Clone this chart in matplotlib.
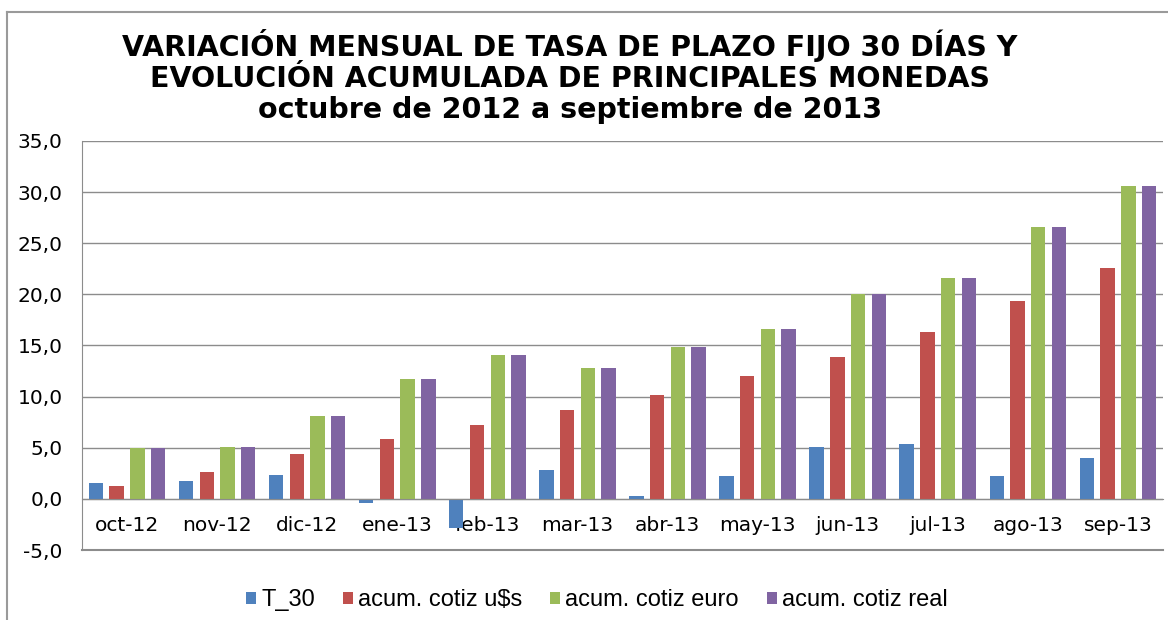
import matplotlib
matplotlib.use("Agg")
import matplotlib.pyplot as plt
from matplotlib.lines import Line2D
import numpy as np

# data
months = ["oct-12", "nov-12", "dic-12", "ene-13", "feb-13", "mar-13",
          "abr-13", "may-13", "jun-13", "jul-13", "ago-13", "sep-13"]
t_30 = [1.56, 1.79, 2.37, -0.4, -2.8, 2.82, 0.26, 2.24, 5.03, 5.39, 2.24, 4.0]
cotiz_usd = [1.3, 2.6, 4.38, 5.88, 7.18, 8.67, 10.2, 11.98, 13.83, 16.3, 19.35, 22.6]
cotiz_euro = [4.93, 5.03, 8.1, 11.72, 14.06, 12.8, 14.87, 16.62, 20.0, 21.6, 26.56, 30.6]
cotiz_real = [4.93, 5.03, 8.1, 11.72, 14.06, 12.8, 14.87, 16.62, 20.0, 21.6, 26.56, 30.6]

series = [t_30, cotiz_usd, cotiz_euro, cotiz_real]
labels = ["T_30", "acum. cotiz u$s", "acum. cotiz euro", "acum. cotiz real"]
colors = ["#4F81BD", "#C0504D", "#9BBB59", "#8064A2"]

fig = plt.figure(figsize=(11.68, 6.2), dpi=100)
ax = fig.add_axes([0.0702, 0.1129, 0.9255, 0.6597])

x = np.arange(len(months))
bar_w = 0.16
step = 0.23
for i, (vals, lab, col) in enumerate(zip(series, labels, colors)):
    ax.bar(x + (i - 1.5) * step, vals, bar_w, color=col, label=lab, zorder=2)

ax.set_xlim(-0.5, len(months) - 0.5)
ax.set_ylim(-5, 35)
ax.set_yticks(np.arange(-5, 36, 5))
ax.set_yticklabels([f"{v:.1f}".replace(".", ",") for v in np.arange(-5, 36, 5)])
ax.yaxis.grid(True, color="#8c8c8c", linewidth=1.0, zorder=0)
ax.set_axisbelow(True)

ax.set_xticks(x)
ax.set_xticklabels(months)
ax.spines["bottom"].set_position(("data", 0))
ax.spines["bottom"].set_color("#8c8c8c")
ax.spines["left"].set_color("#8c8c8c")
ax.spines["top"].set_visible(False)
ax.spines["right"].set_visible(False)
ax.tick_params(axis="x", length=0, pad=12, labelsize=14.5)
ax.tick_params(axis="y", length=0, pad=14, labelsize=14.5)
ax.axhline(ax.get_ylim()[0], color="#8c8c8c", linewidth=1.5, clip_on=False)

fig.text(0.488, 0.877, "VARIACIÓN MENSUAL DE TASA DE PLAZO FIJO 30 DÍAS Y\n"
         "EVOLUCIÓN ACUMULADA DE PRINCIPALES MONEDAS\n"
         "octubre de 2012 a septiembre de 2013",
         ha="center", va="center", fontsize=20.5, fontweight="bold",
         linespacing=1.14)

leg = fig.legend(loc="center", bbox_to_anchor=(0.511, 0.032), ncol=4,
                 frameon=False, handlelength=0.42, handleheight=0.42,
                 handletextpad=0.2, columnspacing=1.2,
                 prop={"family": "Liberation Sans", "size": 17})

# outer chart border (left and top edges only, rest is cropped)
fig.add_artist(Line2D([0.006, 0.006], [0.0, 0.981], transform=fig.transFigure,
                      color="#9a9a9a", linewidth=1.5))
fig.add_artist(Line2D([0.006, 1.0], [0.981, 0.981], transform=fig.transFigure,
                      color="#9a9a9a", linewidth=1.5))

fig.savefig("out.png", dpi=100)
